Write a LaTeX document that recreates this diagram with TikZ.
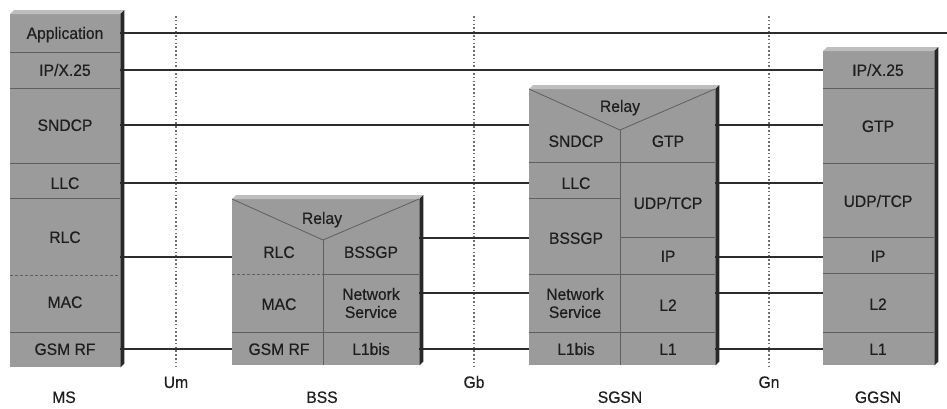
\documentclass[tikz,border=0pt]{standalone}
\usepackage{fontspec}
\setmainfont{Liberation Sans}
\newfontfamily\lblfont[FakeStretch=0.95,FakeBold=0.4]{Liberation Sans}
\definecolor{facegray}{RGB}{155,155,155}
\definecolor{topgray}{RGB}{190,190,190}
\definecolor{edgedark}{RGB}{40,40,40}
\definecolor{sepgray}{RGB}{95,95,95}
\definecolor{txt}{RGB}{30,30,30}
\definecolor{linec}{RGB}{45,45,45}
\definecolor{dotc}{RGB}{110,110,110}
\newcommand\extrudebox[1]{%
  \fill[topgray] (#1.north west) -- ([shift={(4pt,4pt)}]#1.north west) -- ([shift={(4pt,4pt)}]#1.north east) -- (#1.north east) -- cycle;
  \fill[edgedark] (#1.north east) -- ([shift={(4pt,4pt)}]#1.north east) -- ([shift={(4pt,4pt)}]#1.south east) -- (#1.south east) -- cycle;}
\begin{document}
\begin{tikzpicture}[x=1pt,y=-1pt,
  face/.style={fill=facegray, draw=none, inner sep=0pt, anchor=north west},
  cell/.style={font=\lblfont\fontsize{16.5}{18}\selectfont, text=txt, inner sep=0pt, text height=11.8pt, text depth=0pt},
  cellii/.style={font=\lblfont\fontsize{16.5}{18}\selectfont, text=txt, inner sep=0pt, align=center},
  sep/.style={draw=sepgray, line width=0.8pt},
  sepdash/.style={draw=sepgray, line width=0.8pt, dash pattern=on 3pt off 2pt},
  conn/.style={draw=linec, line width=1.2pt},
  iface/.style={draw=dotc, line width=1.6pt, dash pattern=on 1.6pt off 2.2pt}]
\useasboundingbox (0,0) rectangle (947,408);
% level coordinates
\coordinate (yApp) at (0,33);
\coordinate (yIP) at (0,70);
\coordinate (ySN) at (0,125);
\coordinate (yLLC) at (0,183);
\coordinate (yBSSGP) at (0,238);
\coordinate (yRLC) at (0,257);
\coordinate (yNS) at (0,293);
\coordinate (yL1) at (0,349);
\coordinate (appEnd) at (947,33);
% interface lines
\coordinate (umT) at (176,16); \coordinate (umB) at (176,367);
\coordinate (gbT) at (474,16); \coordinate (gbB) at (474,367);
\coordinate (gnT) at (769,16); \coordinate (gnB) at (769,367);
\draw[iface] (umT) -- (umB);
\draw[iface] (gbT) -- (gbB);
\draw[iface] (gnT) -- (gnB);
% boxes (faces)
\node[face, minimum width=110pt, minimum height=353pt] (ms) at (10,14) {};
\node[face, minimum width=187pt, minimum height=166pt] (bss) at (232,199) {};
\node[face, minimum width=186pt, minimum height=276pt] (sgsn) at (529,89) {};
\node[face, minimum width=111pt, minimum height=314pt] (ggsn) at (823,51) {};
% connectors
\draw[conn] (ms.east |- yApp) -- (appEnd);
\draw[conn] (ms.east |- yIP) -- (ggsn.west |- yIP);
\draw[conn] (ms.east |- ySN) -- (sgsn.west |- ySN);
\draw[conn] (sgsn.east |- ySN) -- (ggsn.west |- ySN);
\draw[conn] (ms.east |- yLLC) -- (sgsn.west |- yLLC);
\draw[conn] (sgsn.east |- yLLC) -- (ggsn.west |- yLLC);
\draw[conn] (ms.east |- yRLC) -- (bss.west |- yRLC);
\draw[conn] (sgsn.east |- yRLC) -- (ggsn.west |- yRLC);
\draw[conn] (bss.east |- yBSSGP) -- (sgsn.west |- yBSSGP);
\draw[conn] (bss.east |- yNS) -- (sgsn.west |- yNS);
\draw[conn] (sgsn.east |- yNS) -- (ggsn.west |- yNS);
\draw[conn] (ms.east |- yL1) -- (bss.west |- yL1);
\draw[conn] (bss.east |- yL1) -- (sgsn.west |- yL1);
\draw[conn] (sgsn.east |- yL1) -- (ggsn.west |- yL1);
% 3D edges
\extrudebox{ms}
\extrudebox{bss}
\extrudebox{sgsn}
\extrudebox{ggsn}
% MS layers
\draw[sep] (10,52) -- (120,52);
\draw[sep] (10,88) -- (120,88);
\draw[sep] (10,163) -- (120,163);
\draw[sep] (10,198) -- (120,198);
\draw[sepdash] (10,275) -- (120,275);
\draw[sep] (10,332) -- (120,332);
\node[cell] (msApp) at (65,33) {Application};
\node[cell] (msIP) at (65,70) {IP/X.25};
\node[cell] (msSN) at (65,125) {SNDCP};
\node[cell] (msLLC) at (65,183) {LLC};
\node[cell] (msRLC) at (65,237) {RLC};
\node[cell] (msMAC) at (65,302) {MAC};
\node[cell] (msRF) at (65,349) {GSM RF};
% BSS layers
\draw[sep] (232,199) -- (323,240) -- (419,199);
\draw[sep] (323,240) -- (323,365);
\draw[sepdash] (232,274) -- (323,274);
\draw[sep] (323,274) -- (419,274);
\draw[sep] (232,332) -- (419,332);
\node[cell] (bssRelay) at (322,218) {Relay};
\node[cell] (bssRLC) at (279,252) {RLC};
\node[cell] (bssBSSGP) at (371,252) {BSSGP};
\node[cell] (bssMAC) at (279,304) {MAC};
\node[cellii] (bssNS) at (371,303) {Network\\Service};
\node[cell] (bssRF) at (279,349) {GSM RF};
\node[cell] (bssL1) at (371,349) {L1bis};
% SGSN layers
\draw[sep] (529,89) -- (620,130) -- (715,89);
\draw[sep] (620,130) -- (620,365);
\draw[sep] (529,162) -- (715,162);
\draw[sep] (529,198) -- (620,198);
\draw[sep] (620,237) -- (715,237);
\draw[sep] (529,274) -- (715,274);
\draw[sep] (529,332) -- (715,332);
\node[cell] (sgRelay) at (620,106) {Relay};
\node[cell] (sgSN) at (576,141) {SNDCP};
\node[cell] (sgGTP) at (668,141) {GTP};
\node[cell] (sgLLC) at (576,183) {LLC};
\node[cell] (sgUDP) at (668,203) {UDP/TCP};
\node[cell] (sgBSSGP) at (576,238) {BSSGP};
\node[cell] (sgIP) at (668,256) {IP};
\node[cellii] (sgNS) at (575,303) {Network\\Service};
\node[cell] (sgL2) at (668,305) {L2};
\node[cell] (sgL1bis) at (576,349) {L1bis};
\node[cell] (sgL1) at (668,349) {L1};
% GGSN layers
\draw[sep] (823,88) -- (934,88);
\draw[sep] (823,163) -- (934,163);
\draw[sep] (823,237) -- (934,237);
\draw[sep] (823,273) -- (934,273);
\draw[sep] (823,332) -- (934,332);
\node[cell] (ggIP) at (878,70) {IP/X.25};
\node[cell] (ggGTP) at (878,126) {GTP};
\node[cell] (ggUDP) at (878,201) {UDP/TCP};
\node[cell] (ggIPb) at (878,256) {IP};
\node[cell] (ggL2) at (878,304) {L2};
\node[cell] (ggL1) at (878,349) {L1};
% bottom labels
\node[cell] (lblMS) at (64,397) {MS};
\node[cell] (lblUm) at (176,382) {Um};
\node[cell] (lblBSS) at (322,397) {BSS};
\node[cell] (lblGb) at (474,382) {Gb};
\node[cell] (lblSGSN) at (620,397) {SGSN};
\node[cell] (lblGn) at (769,382) {Gn};
\node[cell] (lblGGSN) at (878,397) {GGSN};
\end{tikzpicture}
\end{document}
